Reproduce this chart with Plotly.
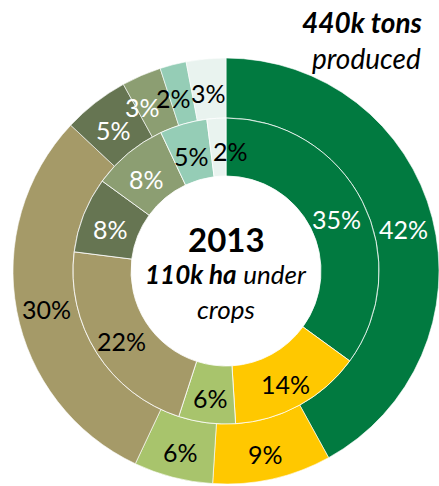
import math
import plotly.graph_objects as go

categories = ["Cat A", "Cat B", "Cat C", "Cat D", "Cat E", "Cat F", "Cat G", "Cat H"]
outer_values = [42, 9, 6, 30, 5, 3, 2, 3]   # share of tons produced
inner_values = [35, 14, 6, 22, 8, 8, 5, 2]  # share of ha under crops
colors = ["#017A40", "#FFC800", "#A8C46C", "#A59A68", "#667552", "#8C9E72", "#95CDB6", "#E9F3EF"]
text_colors = ["white", "black", "black", "black", "white", "white", "black", "black"]
# small label nudges (pixels) to keep crowded labels apart, as in the original
outer_nudge = {5: -11, 6: -7, 7: 0}
inner_nudge = {7: 12}

W, H = 439, 486
cx, cy = 226, 271
r_out, r_mid, r_hole = 213, 153, 95

def dom(r):
    return dict(x=[(cx - r) / W, (cx + r) / W],
                y=[(H - cy - r) / H, (H - cy + r) / H])

FONT = "Lato"
PS = 25

fig = go.Figure()
fig.add_trace(go.Pie(
    labels=categories, values=outer_values, sort=False, direction="clockwise",
    rotation=0, hole=r_mid / r_out, domain=dom(r_out),
    marker=dict(colors=colors, line=dict(color="rgba(255,255,255,0.6)", width=1)),
    textinfo="none", showlegend=False,
))
fig.add_trace(go.Pie(
    labels=categories, values=inner_values, sort=False, direction="clockwise",
    rotation=0, hole=r_hole / r_mid, domain=dom(r_mid),
    marker=dict(colors=colors, line=dict(color="rgba(255,255,255,0.8)", width=1)),
    textinfo="none", showlegend=False,
))

ann = []

def ring_labels(values, r_in, r_o, nudge):
    total = sum(values)
    cum = 0
    rm = (r_in + r_o) / 2
    for i, (v, tc) in enumerate(zip(values, text_colors)):
        th = 2 * math.pi * (cum + v / 2) / total
        cum += v
        px = cx + rm * math.sin(th)
        py = cy - rm * math.cos(th)
        ann.append(dict(text=f"{v}%", x=px / W, y=(H - py) / H,
                        xshift=nudge.get(i, 0), yshift=-4,
                        font=dict(size=PS, color=tc, family=FONT)))

ring_labels(outer_values, r_mid, r_out, outer_nudge)
ring_labels(inner_values, r_hole, r_mid, inner_nudge)

ann += [
    dict(text="<b>2013</b>", x=cx / W, y=(H - 239) / H, font=dict(size=33, color="black", family=FONT)),
    dict(text="<b><i>110k ha</i></b> <i>under</i>", x=cx / W, y=(H - 274) / H, font=dict(size=26, color="black", family=FONT)),
    dict(text="<i>crops</i>", x=cx / W, y=(H - 309) / H, font=dict(size=26, color="black", family=FONT)),
    dict(text="<b><i>440k tons</i></b>", x=425 / W, y=(H - 22) / H, xanchor="right", font=dict(size=28, color="black", family=FONT)),
    dict(text="<i>produced</i>", x=423 / W, y=(H - 58) / H, xanchor="right", font=dict(size=28, color="black", family=FONT)),
]
for a in ann:
    a.update(xref="paper", yref="paper", showarrow=False, yanchor="middle")
    a.setdefault("xanchor", "center")

fig.update_layout(width=W, height=H, margin=dict(l=0, r=0, t=0, b=0),
                  paper_bgcolor="white", plot_bgcolor="white", annotations=ann)
fig.write_html("out.html")
